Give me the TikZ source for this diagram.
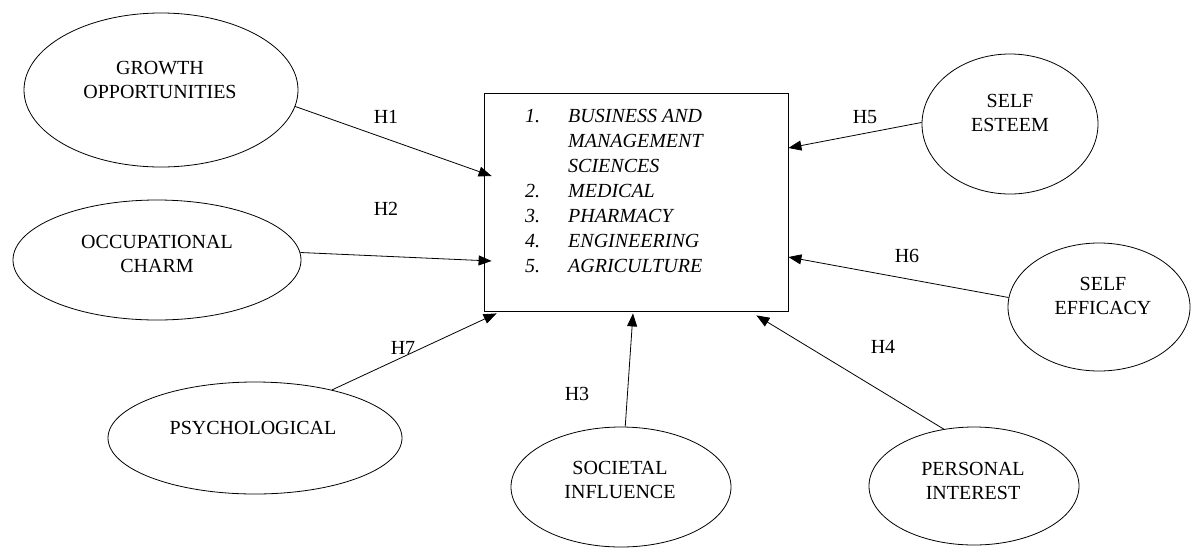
\documentclass[tikz,border=0pt]{standalone}
\usepackage{fontspec}
\setmainfont{Liberation Serif}
\usetikzlibrary{shapes.geometric,arrows.meta,calc}
\begin{document}
\begin{tikzpicture}[x=1pt,y=-1pt,
  oval/.style={draw, ellipse, line width=0.8pt, inner sep=0pt},
  lbl/.style={font=\fontsize{20}{24}\selectfont, align=center, inner sep=0pt},
  hyp/.style={font=\fontsize{20}{24}\selectfont, inner sep=0pt},
  conn/.style={line width=0.8pt, -{Triangle[length=13pt,width=10pt]}}]
\useasboundingbox (0,0) rectangle (1192,547);

% central box
\node[draw, line width=0.8pt, minimum width=304pt, minimum height=218pt, inner sep=0pt] (box) at (636,202) {};
\node[anchor=base west, inner sep=0pt, font=\fontsize{20}{25}\selectfont\itshape] (list) at (525,122)
 {\begin{tabular}[t]{@{}p{43pt}@{}l@{}}
  1. & BUSINESS AND\\
     & MANAGEMENT\\
     & SCIENCES\\
  2. & MEDICAL\\
  3. & PHARMACY\\
  4. & ENGINEERING\\
  5. & AGRICULTURE
 \end{tabular}};

% ellipses
\node[oval, minimum width=274pt, minimum height=154pt] (go) at (161,90) {};
\node[lbl] (got) at (160,80) {GROWTH\\OPPORTUNITIES};
\node[oval, minimum width=288pt, minimum height=120pt] (oc) at (157,260) {};
\node[lbl] (oct) at (157,254) {OCCUPATIONAL\\CHARM};
\node[oval, minimum width=294pt, minimum height=112pt] (ps) at (255,438) {};
\node[lbl] (pst) at (253,428) {PSYCHOLOGICAL};
\node[oval, minimum width=220pt, minimum height=120pt] (si) at (621,487) {};
\node[lbl] (sit) at (620,480) {SOCIETAL\\INFLUENCE};
\node[oval, minimum width=210pt, minimum height=118pt] (pi) at (974,486) {};
\node[lbl] (pit) at (973,481) {PERSONAL\\INTEREST};
\node[oval, minimum width=176pt, minimum height=140pt] (se) at (1010,124) {};
\node[lbl] (set) at (1010,113) {SELF\\ESTEEM};
\node[oval, minimum width=182pt, minimum height=128pt] (ef) at (1099,307) {};
\node[lbl] (eft) at (1103,296) {SELF\\EFFICACY};

% connectors
\draw[conn] (go.-7) -- ([xshift=8pt,yshift=26pt]box.west);
\draw[conn] (oc.3) -- ([xshift=8pt,yshift=-59pt]box.west);
\draw[conn] (ps.32) -- ([xshift=13pt,yshift=-2pt]box.south west);
\draw[conn] (si.86) -- ([xshift=-3pt,yshift=-2pt]box.south);
\draw[conn] (pi.118) -- ([xshift=-32pt,yshift=-4pt]box.south east);
\draw[conn] (se.179) -- ([yshift=54pt]box.east);
\draw[conn] (ef.174) -- ([yshift=-55pt]box.east);

% hypothesis labels
\node[hyp] (h1) at (386,117) {H1};
\node[hyp] (h2) at (386,209) {H2};
\node[hyp] (h3) at (577,394) {H3};
\node[hyp] (h4) at (883,347) {H4};
\node[hyp] (h5) at (865,117) {H5};
\node[hyp] (h6) at (907,256) {H6};
\node[hyp] (h7) at (403,348) {H7};
\end{tikzpicture}
\end{document}
